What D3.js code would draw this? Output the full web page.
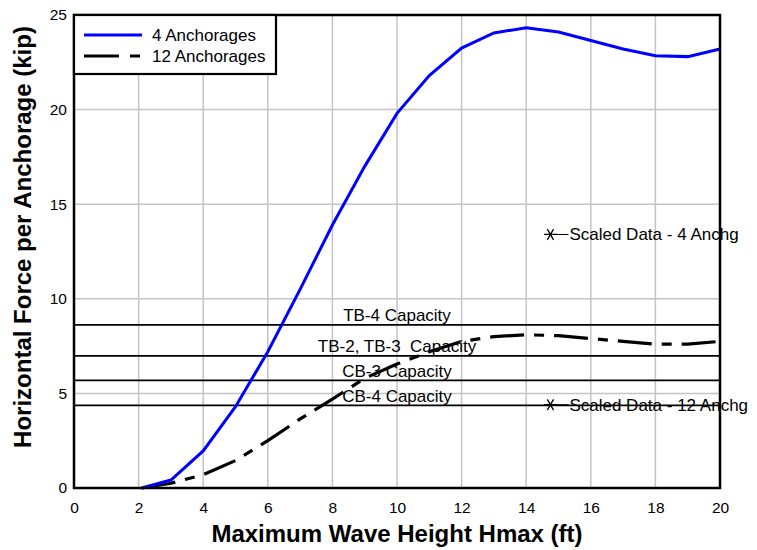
<!DOCTYPE html>
<html>
<head>
<meta charset="utf-8">
<script src="https://cdn.jsdelivr.net/npm/d3@7"></script>
<style>
  html, body { margin: 0; padding: 0; background: #fff; }
  text { font-family: "Liberation Sans", Arial, sans-serif; }
</style>
</head>
<body>
<svg id="chart" width="757" height="550"></svg>
<script>
// ---- data ----
const waveHeight = [2.1, 3, 4, 5, 6, 7, 8, 9, 10, 11, 12, 13, 14, 15, 16, 17, 18, 19, 20];
const force4 = [0, 0.42, 1.96, 4.3, 7.2, 10.5, 13.9, 17.0, 19.8, 21.8, 23.25, 24.05, 24.33, 24.1, 23.65, 23.2, 22.85, 22.8, 23.2];
const force12 = [0, 0.25, 0.7, 1.45, 2.5, 3.65, 4.7, 5.8, 6.55, 7.2, 7.75, 8.0, 8.1, 8.05, 7.9, 7.75, 7.6, 7.6, 7.75];
const seriesNames = ["4 Anchorages", "12 Anchorages"];
const capacityNames = ["TB-4 Capacity", "TB-2, TB-3  Capacity", "CB-3 Capacity", "CB-4 Capacity"];
const capacityValues = [8.62, 6.98, 5.69, 4.37];
const scaledNames = ["Scaled Data - 4 Anchg", "Scaled Data - 12 Anchg"];
const scaledX = [14.75, 14.75];
const scaledY = [13.4, 4.4];
const xTicks = [0, 2, 4, 6, 8, 10, 12, 14, 16, 18, 20];
const yTicks = [0, 5, 10, 15, 20, 25];
const xTitle = "Maximum Wave Height Hmax (ft)";
const yTitle = "Horizontal Force per Anchorage (kip)";

// ---- layout ----
const svg = d3.select("#chart");
const L = 74, R = 720, T = 15, B = 488;
const x = d3.scaleLinear().domain([0, 20]).range([L, R]);
const y = d3.scaleLinear().domain([0, 25]).range([B, T]);
const FONT = "'Liberation Sans', Arial, sans-serif";

// gridlines
const grid = svg.append("g");
grid.selectAll("line.vx").data(xTicks.slice(1, -1)).join("line")
  .attr("x1", d => x(d)).attr("x2", d => x(d)).attr("y1", T).attr("y2", B)
  .attr("stroke", "#c4c4c4").attr("stroke-width", 1.5);
grid.selectAll("line.hy").data(yTicks.slice(1, -1)).join("line")
  .attr("x1", L).attr("x2", R).attr("y1", d => y(d)).attr("y2", d => y(d))
  .attr("stroke", "#c4c4c4").attr("stroke-width", 1.5);

// axes tick labels
const xAxis = d3.axisBottom(x).tickValues(xTicks).tickSize(0).tickPadding(14).tickFormat(d3.format("d"));
const gx = svg.append("g").attr("transform", `translate(0,${B})`).call(xAxis);
gx.select(".domain").remove();
gx.selectAll("text").attr("font-size", 15.5).attr("fill", "#000").style("font-family", FONT);

const yAxis = d3.axisLeft(y).tickValues(yTicks).tickSize(0).tickPadding(7).tickFormat(d3.format("d"));
const gy = svg.append("g").attr("transform", `translate(${L},0)`).call(yAxis);
gy.select(".domain").remove();
gy.selectAll("text").attr("font-size", 15.5).attr("fill", "#000").style("font-family", FONT);

// capacity lines
svg.append("g").selectAll("line").data(capacityValues).join("line")
  .attr("x1", L).attr("x2", R).attr("y1", d => y(d)).attr("y2", d => y(d))
  .attr("stroke", "#000").attr("stroke-width", 1.8);
svg.append("g").selectAll("text").data(capacityNames).join("text")
  .attr("x", x(10)).attr("y", (d, i) => y(capacityValues[i]) - 3.5)
  .attr("text-anchor", "middle").attr("font-size", 17).attr("fill", "#000")
  .style("white-space", "pre").text(d => d);

// series lines
const line = d3.line().x((d, i) => x(waveHeight[i])).y(d => y(d));
svg.append("path").datum(force12).attr("d", line)
  .attr("fill", "none").attr("stroke", "#000").attr("stroke-width", 3.2)
  .attr("stroke-dasharray", "34,10,10,10");
svg.append("path").datum(force4).attr("d", line)
  .attr("fill", "none").attr("stroke", "#0000ff").attr("stroke-width", 3);

// scaled data
const sg = svg.append("g");
scaledNames.forEach((name, i) => {
  const cx = x(scaledX[i]), cy = y(scaledY[i]);
  sg.append("line").attr("x1", cx - 5).attr("x2", cx + 18).attr("y1", cy).attr("y2", cy)
    .attr("stroke", "#000").attr("stroke-width", 1);
  sg.append("path").attr("d", d3.symbol(d3.symbolAsterisk, 110)())
    .attr("transform", `translate(${cx},${cy}) rotate(90)`)
    .attr("fill", "none").attr("stroke", "#000").attr("stroke-width", 1.3);
  sg.append("text").attr("x", cx + 19).attr("y", cy + 6).attr("font-size", 17)
    .attr("fill", "#000").text(name);
});

// frame
svg.append("rect").attr("x", L).attr("y", T).attr("width", R - L).attr("height", B - T)
  .attr("fill", "none").attr("stroke", "#000").attr("stroke-width", 2.5);

// legend
const lg = svg.append("g");
lg.append("rect").attr("x", L).attr("y", T).attr("width", 202).attr("height", 59)
  .attr("fill", "#fff").attr("stroke", "#000").attr("stroke-width", 2.2);
const legStyles = [{c: "#0000ff", dash: null, w: 3}, {c: "#000", dash: "35,11,10,10", w: 3.2}];
seriesNames.forEach((name, i) => {
  const ly = 35 + i * 21;
  lg.append("line").attr("x1", 84).attr("x2", 142).attr("y1", ly).attr("y2", ly)
    .attr("stroke", legStyles[i].c).attr("stroke-width", legStyles[i].w)
    .attr("stroke-dasharray", legStyles[i].dash);
  lg.append("text").attr("x", 152).attr("y", ly + 6).attr("font-size", 17)
    .attr("fill", "#000").text(name);
});

// titles
svg.append("text").attr("x", 397).attr("y", 542).attr("text-anchor", "middle")
  .attr("font-size", 24).attr("font-weight", "bold").attr("fill", "#000").text(xTitle);
svg.append("text").attr("transform", `translate(31,237) rotate(-90)`)
  .attr("text-anchor", "middle").attr("font-size", 24).attr("font-weight", "bold")
  .attr("fill", "#000").text(yTitle);
</script>
</body>
</html>
